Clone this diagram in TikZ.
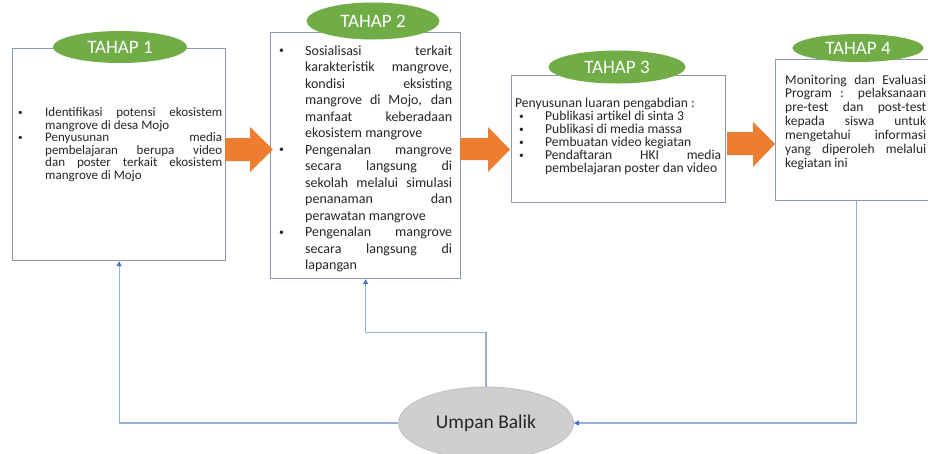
\documentclass[tikz,border=0pt]{standalone}
\usepackage{fontspec}
\usepackage{graphicx}
\setmainfont{Carlito}
\usetikzlibrary{shapes.geometric,arrows.meta}
\definecolor{tgreen}{HTML}{70AD47}
\definecolor{aorange}{HTML}{ED7D31}
\definecolor{boxgray}{HTML}{8D99AC}
\definecolor{lineblue}{HTML}{98AED3}
\definecolor{headblue}{HTML}{4472C4}
\definecolor{ubfill}{HTML}{D0CECE}
\definecolor{ubdraw}{HTML}{BFBFBF}
\definecolor{txt}{HTML}{262626}
\def\curind{0pt}
\newcommand\J[1]{\makebox[\dimexpr\linewidth-\curind\relax][s]{#1}}
\newcommand\smallbul{\raisebox{0.12em}{\scalebox{0.7}{\textbullet}}}
\newcommand\BI[3][0pt]{\par\noindent\hangindent=#2\hangafter=1\def\curind{#2}\makebox[#2][l]{\hspace{#1}\smallbul}#3\par}
\begin{document}
\begin{tikzpicture}[x=1pt,y=-1pt,
  stagebox/.style={draw=boxgray, line width=1.2pt, fill=white, rectangle, inner sep=0pt, anchor=north west},
  title/.style={ellipse, fill=tgreen, text=white, inner sep=0pt, font=\fontsize{19}{20}\selectfont},
  body/.style={anchor=north west, inner sep=0pt, align=justify, text=txt},
  flow/.style={fill=aorange, draw=none},
  conn/.style={draw=lineblue, line width=1.1pt, -{Triangle[length=5pt,width=5pt,color=headblue]}},
]
\useasboundingbox (0,0) rectangle (928,453);
\fill[white] (0,0) rectangle (928,453);

% boxes
\node[stagebox, minimum width=213pt, minimum height=212pt] (b1) at (12,48) {};
\node[stagebox, minimum width=190pt, minimum height=246pt] (b2) at (270,32) {};
\node[stagebox, minimum width=214pt, minimum height=127pt] (b3) at (511,75) {};
\node[stagebox, minimum width=162pt, minimum height=141pt] (b4) at (775,59) {};

% titles
\node[title, minimum width=134pt, minimum height=32pt] (t1) at (120,47) {TAHAP 1};
\node[title, minimum width=133pt, minimum height=37pt] (t2) at (373,21) {TAHAP 2};
\node[title, minimum width=137pt, minimum height=33pt] (t3) at (617,67) {TAHAP 3};
\node[title, minimum width=131pt, minimum height=28pt] (t4) at (858,48) {TAHAP 4};

% texts
\node[body, text width=204pt, font=\fontsize{13}{12.5}\selectfont] (x1) at (18,104) {%
\BI{27pt}{\J{Identifikasi potensi ekosistem}\\mangrove di desa Mojo}%
\BI{27pt}{\J{Penyusunan media}\\\J{pembelajaran berupa video}\\\J{dan poster terkait ekosistem}\\mangrove di Mojo}};

\node[body, text width=173pt, font=\fontsize{14}{16.5}\selectfont] (x2) at (279,38.5) {%
\BI{26pt}{\J{Sosialisasi terkait}\\\J{karakteristik mangrove,}\\\J{kondisi eksisting}\\\J{mangrove di Mojo, dan}\\\J{manfaat keberadaan}\\ekosistem mangrove}%
\BI{26pt}{\J{Pengenalan mangrove}\\\J{secara langsung di}\\\J{sekolah melalui simulasi}\\\J{penanaman dan}\\perawatan mangrove}%
\BI{26pt}{\J{Pengenalan mangrove}\\\J{secara langsung di}\\lapangan}};

\node[body, text width=206pt, font=\fontsize{13.6}{13}\selectfont] (x3) at (515,98) {%
\noindent Penyusunan luaran pengabdian :\par
\BI[4pt]{30pt}{Publikasi artikel di sinta 3}%
\BI[4pt]{30pt}{Publikasi di media massa}%
\BI[4pt]{30pt}{Pembuatan video kegiatan}%
\BI[4pt]{30pt}{\J{Pendaftaran HKI media}\\pembelajaran poster dan video}};

\node[body, text width=141pt, font=\fontsize{13.5}{13.9}\selectfont] (x4) at (785,74.5) {%
\noindent\J{Monitoring dan Evaluasi}\\\J{Program : pelaksanaan}\\\J{pre-test dan post-test}\\\J{kepada siswa untuk}\\\J{mengetahui informasi}\\\J{yang diperoleh melalui}\\kegiatan ini};

% orange flow arrows
\fill[flow] (225,138) -- (250,138) -- (250,127) -- (273,149.5) -- (250,172) -- (250,161) -- (225,161) -- cycle;
\fill[flow] (460,138) -- (488,138) -- (488,127) -- (510,149.5) -- (488,172) -- (488,160) -- (460,160) -- cycle;
\fill[flow] (727,132) -- (753,132) -- (753,122) -- (775,144) -- (753,167) -- (753,155) -- (727,155) -- cycle;

% feedback
\node[ellipse, fill=ubfill, draw=ubdraw, line width=0.8pt, minimum width=175pt, minimum height=72pt, inner sep=0pt, text=txt, font=\fontsize{19.5}{21}\selectfont] (ub) at (486,423) {Umpan Balik};
\draw[conn] (ub.west) -| (b1.south);
\draw[conn] (ub.north) -- ++(0,-54) -| (b2.south);
\draw[conn] (b4.south) |- (ub.east);
\end{tikzpicture}
\end{document}
